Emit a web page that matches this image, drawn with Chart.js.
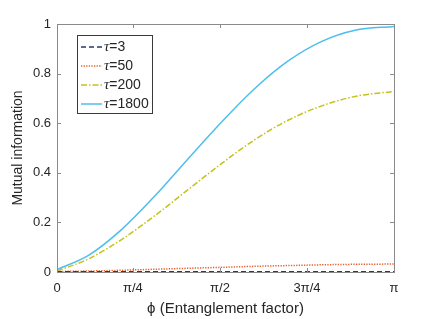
<!DOCTYPE html>
<html>
<head>
<meta charset="utf-8">
<script src="https://cdn.jsdelivr.net/npm/chart.js@4.4.0/dist/chart.umd.min.js"></script>
<style>
  html, body { margin: 0; padding: 0; background: #ffffff; }
  #chart_area { width: 436px; height: 319px; position: relative; }
</style>
</head>
<body>
<div id="chart_area"><canvas id="mutual_info"></canvas></div>
<script>
// Entanglement factor samples (radians)
const phiValues = [0.1, 0.38, 0.68, 0.98, 1.28, 1.59, 1.89, 2.19, 2.49, 2.79, 3.1416];

// Mutual information for each tau
const tauLabels = ["3", "50", "200", "1800"];
const tau3Values = [0.001, 0.001, 0.001, 0.001, 0.001, 0.001, 0.001, 0.001, 0.001, 0.001, 0.001];
const tau50Values = [0.002, 0.004, 0.007, 0.011, 0.015, 0.019, 0.023, 0.026, 0.029, 0.031, 0.032];
const tau200Values = [0.004, 0.052, 0.13, 0.226, 0.331, 0.439, 0.535, 0.613, 0.67, 0.708, 0.728];
const tau1800Values = [0.01, 0.066, 0.17, 0.305, 0.455, 0.607, 0.742, 0.852, 0.93, 0.975, 0.99];

// Tick positions and labels
const xTickValues = [0.1, Math.PI / 4, Math.PI / 2, 3 * Math.PI / 4, Math.PI];
const xTickLabels = ["0", "π/4", "π/2", "3π/4", "π"];
const yTickValues = [0, 0.2, 0.4, 0.6, 0.8, 1];

const seriesColors = ["#233b6e", "#e8602c", "#c6c21c", "#4dbeee"];
const seriesDashes = [[5, 3], [1.3, 1.3], [6, 2, 1.5, 2], []];

const sansFont = "'Liberation Sans', Arial, Helvetica, sans-serif";
const textColor = "#262626";
const boxColor = "#8a8a8a";

function to_points(values) {
    return values.map(function (v, i) {
        return { x: phiValues[i], y: v };
    });
}

const allValues = [tau3Values, tau50Values, tau200Values, tau1800Values];

const datasets = allValues.map(function (values, i) {
    return {
        label: "τ=" + tauLabels[i],
        data: to_points(values),
        borderColor: seriesColors[i],
        borderWidth: 1.5,
        borderDash: seriesDashes[i],
        pointRadius: 0,
        fill: false,
        cubicInterpolationMode: "monotone"
    };
});

/**
 * Draws the box round the plot, the inward tick marks and the legend.
 */
const boxAndLegend = {
    id: "boxAndLegend",
    afterDraw: function (chart) {
        const ctx = chart.ctx;
        const area = chart.chartArea;
        const xs = chart.scales.x;
        const ys = chart.scales.y;
        const tickLen = 4;

        ctx.save();
        ctx.strokeStyle = boxColor;
        ctx.lineWidth = 1;
        ctx.setLineDash([]);
        ctx.strokeRect(Math.round(area.left) + 0.5, Math.round(area.top) + 0.5,
            Math.round(area.right - area.left), Math.round(area.bottom - area.top));

        // Inward ticks on all four sides
        ctx.beginPath();
        xTickValues.forEach(function (v) {
            const px = Math.round(xs.getPixelForValue(v)) + 0.5;
            ctx.moveTo(px, area.bottom);
            ctx.lineTo(px, area.bottom - tickLen);
            ctx.moveTo(px, area.top);
            ctx.lineTo(px, area.top + tickLen);
        });
        yTickValues.forEach(function (v) {
            const py = Math.round(ys.getPixelForValue(v)) + 0.5;
            ctx.moveTo(area.left, py);
            ctx.lineTo(area.left + tickLen, py);
            ctx.moveTo(area.right, py);
            ctx.lineTo(area.right - tickLen, py);
        });
        ctx.stroke();

        // Legend box
        const lx = area.left + 20;
        const ly = area.top + 11;
        const lw = 75;
        const lh = 78;
        ctx.fillStyle = "#ffffff";
        ctx.fillRect(lx, ly, lw, lh);
        ctx.strokeStyle = "#3a3a3a";
        ctx.strokeRect(lx + 0.5, ly + 0.5, lw, lh);

        chart.data.datasets.forEach(function (ds, i) {
            const cy = ly + 12 + i * 19;
            ctx.beginPath();
            ctx.strokeStyle = ds.borderColor;
            ctx.lineWidth = ds.borderWidth;
            ctx.setLineDash(ds.borderDash);
            ctx.moveTo(lx + 4, cy);
            ctx.lineTo(lx + 25, cy);
            ctx.stroke();
            ctx.setLineDash([]);

            ctx.fillStyle = textColor;
            ctx.textBaseline = "middle";
            ctx.textAlign = "left";
            ctx.font = "italic 15px 'Liberation Serif', 'DejaVu Serif', serif";
            ctx.fillText("τ", lx + 27, cy);
            const tw = ctx.measureText("τ").width;
            ctx.font = "14px " + sansFont;
            ctx.fillText("=" + tauLabels[i], lx + 27 + tw, cy + 0.5);
        });
        ctx.restore();
    }
};

new Chart("mutual_info", {
    type: "line",
    data: { datasets: datasets },
    options: {
        responsive: true,
        maintainAspectRatio: false,
        animation: false,
        layout: { padding: { left: 0, top: 24, right: 42, bottom: 0 } },
        plugins: {
            legend: { display: false },
            tooltip: { enabled: false }
        },
        scales: {
            x: {
                type: "linear",
                min: xTickValues[0],
                max: Math.PI,
                grid: { display: false, drawTicks: false },
                border: { display: false },
                afterBuildTicks: function (scale) {
                    scale.ticks = xTickValues.map(function (v) { return { value: v }; });
                },
                afterFit: function (scale) { scale.height = 47; },
                ticks: {
                    autoSkip: false,
                    maxRotation: 0,
                    padding: 9,
                    color: textColor,
                    font: { family: sansFont, size: 13 },
                    callback: function (value, index) { return xTickLabels[index]; }
                },
                title: {
                    display: true,
                    text: "ϕ (Entanglement factor)",
                    color: textColor,
                    font: { family: sansFont, size: 15 },
                    padding: { top: 0, bottom: 1 }
                }
            },
            y: {
                min: 0,
                max: 1,
                grid: { display: false, drawTicks: false },
                border: { display: false },
                afterBuildTicks: function (scale) {
                    scale.ticks = yTickValues.map(function (v) { return { value: v }; });
                },
                afterFit: function (scale) { scale.width = 57; },
                ticks: {
                    padding: 6,
                    color: textColor,
                    font: { family: sansFont, size: 13 },
                    callback: function (value) { return String(Math.round(value * 10) / 10); }
                },
                title: {
                    display: true,
                    text: "Mutual information",
                    color: textColor,
                    font: { family: sansFont, size: 14 },
                    padding: { top: 10, bottom: 0 }
                }
            }
        }
    },
    plugins: [boxAndLegend]
});
</script>
</body>
</html>
